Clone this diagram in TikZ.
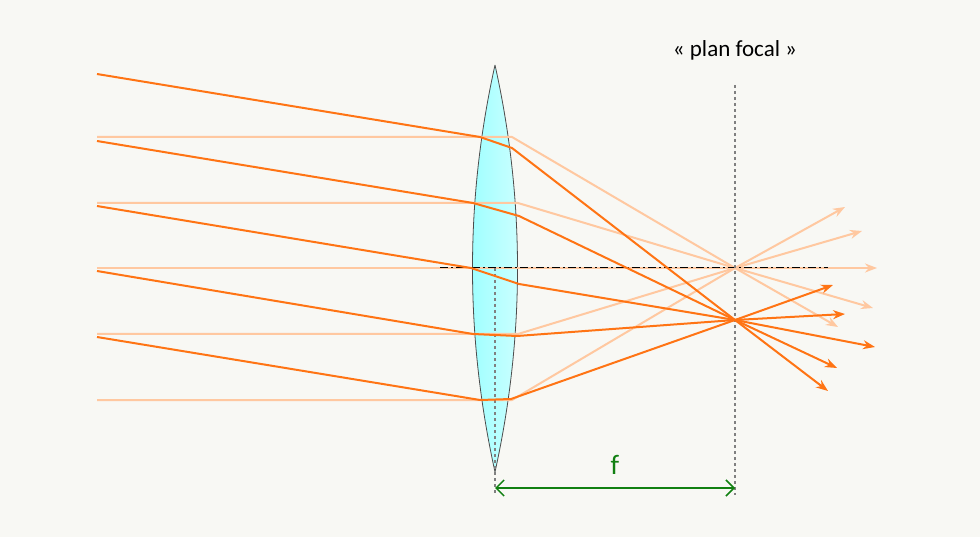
\documentclass[tikz,border=0pt]{standalone}
\usepackage{fontspec}
\setmainfont{Carlito}
\usetikzlibrary{arrows.meta}
\definecolor{bg}{HTML}{F8F8F4}
\definecolor{lite}{HTML}{FFC8A0}
\definecolor{dark}{HTML}{FF7414}
\definecolor{grn}{HTML}{118011}
\begin{document}
\begin{tikzpicture}[x=1pt,y=-1pt,
  lray/.style={lite,line width=2pt,line join=round},
  dray/.style={dark,line width=2pt,line join=round},
  tip/.style={-{Stealth[length=12pt,width=9pt]}},
  guide/.style={gray,dashed,line width=1.3pt}]
\fill[bg] (0,0) rectangle (980,537);
\useasboundingbox (0,0) rectangle (980,537);
% lens
\shade[left color=cyan!40,right color=cyan!18,draw=black!70,line width=0.8pt]
  (495,65) .. controls (465,200) and (465,336) .. (495,472)
  .. controls (525,336) and (525,200) .. (495,65);
\coordinate (F) at (735,268);
\coordinate (P) at (735,320);
% light rays
\draw[lray,tip] (97,137) -- (512,137) -- (F) -- (838,327);
\draw[lray,tip] (97,203) -- (518,203) -- (F) -- (873,308);
\draw[lray,tip] (97,268) -- (F) -- (877,268);
\draw[lray,tip] (97,334) -- (518,334) -- (F) -- (862,231);
\draw[lray,tip] (97,400) -- (512,400) -- (F) -- (845,207);
% axis
\draw[black,line width=1pt,dash pattern=on 8pt off 3pt on 2pt off 3pt] (440,268) -- (828,268);
% guides
\draw[guide] (735,85) -- (735,495);
\draw[guide] (495,268) -- (495,495);
% dark rays
\draw[dray,tip] (97,74) -- (480,137) -- (512,148) -- (P) -- (828,391);
\draw[dray,tip] (97,141) -- (473,203) -- (519,216) -- (P) -- (837,368);
\draw[dray,tip] (97,206) -- (471,268) -- (519,284) -- (P) -- (875,347);
\draw[dray,tip] (97,271) -- (473,334) -- (517,336) -- (P) -- (845,314);
\draw[dray,tip] (97,337) -- (480,400) -- (511,399) -- (P) -- (833,285);
% f
\coordinate (A) at (495,488);
\coordinate (B) at (735,488);
\draw[grn,line width=1.5pt,{Straight Barb[length=8pt]}-{Straight Barb[length=8pt]}] (A) -- (B);
\node[grn,font=\fontsize{28}{30}\selectfont] (fl) at (615,465) {f};
\node[font=\fontsize{23}{26}\selectfont] (pf) at (735,50) {« plan focal »};
\end{tikzpicture}
\end{document}
